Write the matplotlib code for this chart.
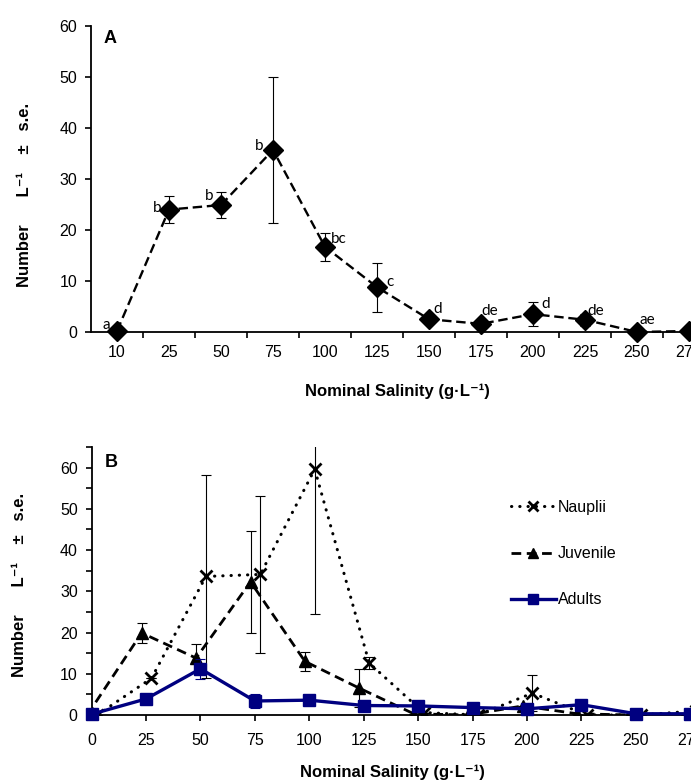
import matplotlib
matplotlib.use("Agg")
import matplotlib.pyplot as plt
from matplotlib.ticker import MultipleLocator

# =========================================================
# DATA
# =========================================================
# panel A: total density by nominal salinity (category axis)
salinity_a = ["10", "25", "50", "75", "100", "125", "150", "175", "200", "225", "250", "275"]
total_mean = [0.2, 24.0, 24.9, 35.7, 16.7, 8.8, 2.5, 1.6, 3.5, 2.4, 0.0, 0.2]
total_se = [0.0, 2.6, 2.5, 14.3, 2.7, 4.8, 0.3, 0.3, 2.4, 1.2, 0.0, 0.0]
letters = ["a", "b", "b", "b", "bc", "c", "d", "de", "d", "de", "ae", ""]

# panel B: life stages (numeric axis)
salinity_b = [0, 25, 50, 75, 100, 125, 150, 175, 200, 225, 250, 275]
nauplii_mean = [0.0, 8.9, 33.6, 34.1, 59.6, 12.6, 0.6, 0.0, 5.3, 0.0, 0.0, 1.0]
nauplii_se = [0.0, 0.0, 24.7, 19.0, 35.0, 1.5, 0.0, 0.0, 4.4, 0.0, 0.0, 0.0]
juvenile_mean = [0.0, 19.9, 13.8, 32.3, 13.0, 6.5, 0.3, 0.0, 2.2, 0.3, 0.0, 0.0]
juvenile_se = [0.0, 2.5, 3.4, 12.3, 2.3, 4.6, 0.0, 0.0, 0.0, 0.0, 0.0, 0.0]
adults_mean = [0.2, 3.9, 11.2, 3.4, 3.6, 2.3, 2.2, 1.8, 1.5, 2.5, 0.3, 0.3]
adults_se = [0.0, 0.0, 2.5, 1.8, 0.0, 0.0, 0.0, 0.0, 0.0, 0.0, 0.0, 0.0]

# small horizontal shifts used in the original to separate the series
nauplii_shift = 2.5
juvenile_shift = -2.0

NAVY = "#000080"
BASE_FONT = ["Liberation Sans", "DejaVu Sans"]
YLABEL = "Number      L⁻¹    ±   s.e."
XLABEL = "Nominal Salinity (g·L⁻¹)"

plt.rcParams["font.family"] = BASE_FONT
plt.rcParams["font.size"] = 11.5

fig = plt.figure(figsize=(6.91, 7.84), dpi=100)


def style_axes(ax):
    for side in ("top", "right"):
        ax.spines[side].set_visible(False)
    for side in ("left", "bottom"):
        ax.spines[side].set_linewidth(1.3)
    ax.tick_params(axis="y", direction="out", length=4, width=1.2, pad=6, labelsize=11.5)
    ax.tick_params(axis="x", direction="out", length=4, width=1.2, pad=5, labelsize=11.5)


# =========================================================
# PANEL A
# =========================================================
ax1 = fig.add_axes([91 / 691, 1 - 332 / 784, 624 / 691, 306 / 784])
style_axes(ax1)
idx = list(range(len(salinity_a)))

ax1.errorbar(idx, total_mean, yerr=total_se, color="black", ls=(0, (4, 2)),
             lw=1.7, marker="D", ms=10.5, mfc="black", mec="black",
             ecolor="black", elinewidth=0.8, capsize=3.5, capthick=0.8,
             clip_on=False, zorder=3)

offsets = [(-11, 6), (-12, 2), (-12, 9), (-14, 4), (14, 8), (13, 5),
           (9, 10), (9, 13), (13, 10), (11, 9), (10, 12), (0, 0)]
for i, (lab, off) in enumerate(zip(letters, offsets)):
    if lab:
        ax1.annotate(lab, (i, total_mean[i]), xytext=off, textcoords="offset pixels",
                     ha="center", va="center", fontsize=11,
                     family=["Lato", "DejaVu Sans"])

ax1.set_xlim(-0.5, len(salinity_a) - 0.5)
ax1.set_ylim(0, 60)
ax1.yaxis.set_major_locator(MultipleLocator(10))
ax1.set_xticks([i + 0.5 for i in idx])
ax1.set_xticklabels([])
ax1.set_xticks(idx, minor=True)
ax1.set_xticklabels(salinity_a, minor=True)
ax1.tick_params(axis="x", which="minor", length=0, pad=9, labelsize=11.5)
ax1.text(13 / 624, 1 - 4 / 306, "A", transform=ax1.transAxes, fontsize=13,
         fontweight="bold", va="top")

fig.text(397 / 691, 1 - 391 / 784, XLABEL, ha="center", va="center",
         fontsize=12, fontweight="bold")
fig.text(25 / 691, 1 - 195 / 784, YLABEL, rotation=90, ha="center",
         va="center", fontsize=12, fontweight="bold")

# =========================================================
# PANEL B
# =========================================================
ax2 = fig.add_axes([91.6 / 691, 1 - 715 / 784, 300 * 2.177 / 691, 268 / 784])
style_axes(ax2)

nx = [s + nauplii_shift for s in salinity_b]
jx = [s + juvenile_shift for s in salinity_b]

naup = ax2.errorbar(nx, nauplii_mean, yerr=nauplii_se, color="black",
                    ls=(0, (0.1, 2.6)), lw=2.2, marker="x", ms=9,
                    ecolor="black", elinewidth=0.8, capsize=3.5, capthick=0.8,
                    zorder=3)
naup[0].set_dash_capstyle("round")
naup[0].set_markeredgewidth(2.0)
juv = ax2.errorbar(jx, juvenile_mean, yerr=juvenile_se, color="black",
                   ls=(0, (3.5, 2)), lw=2.0, marker="^", ms=8.5,
                   ecolor="black", elinewidth=0.8, capsize=3.5, capthick=0.8,
                   zorder=4)
adu = ax2.errorbar(salinity_b, adults_mean, yerr=adults_se, color=NAVY,
                   ls="-", lw=2.4, marker="s", ms=9, ecolor=NAVY,
                   elinewidth=0.8, capsize=3.5, capthick=0.8, zorder=5,
                   clip_on=False)

ax2.set_xlim(0, 300)
ax2.set_ylim(0, 65)
ax2.set_xticks(salinity_b)
ax2.yaxis.set_major_locator(MultipleLocator(10))
ax2.yaxis.set_minor_locator(MultipleLocator(5))
ax2.tick_params(axis="y", which="minor", length=4, width=1.2)
ax2.tick_params(axis="x", pad=9)
ax2.text(13 / 651, 1 - 7 / 268, "B", transform=ax2.transAxes, fontsize=13,
         fontweight="bold", va="top")

ax2.legend([naup[0], juv[0], adu[0]], ["Nauplii", "Juvenile", "Adults"],
           loc="upper left", bbox_to_anchor=(511 / 691, 1 - 500 / 784),
           bbox_transform=fig.transFigure, frameon=False, fontsize=11.5,
           handlelength=2.8, handletextpad=0.15, labelspacing=1.95,
           borderpad=0, borderaxespad=0, markerscale=0.8)

fig.text(392 / 691, 1 - 772 / 784, XLABEL, ha="center", va="center",
         fontsize=12, fontweight="bold")
fig.text(20 / 691, 1 - 585 / 784, YLABEL, rotation=90, ha="center",
         va="center", fontsize=12, fontweight="bold")

fig.savefig("out.png", dpi=100)
